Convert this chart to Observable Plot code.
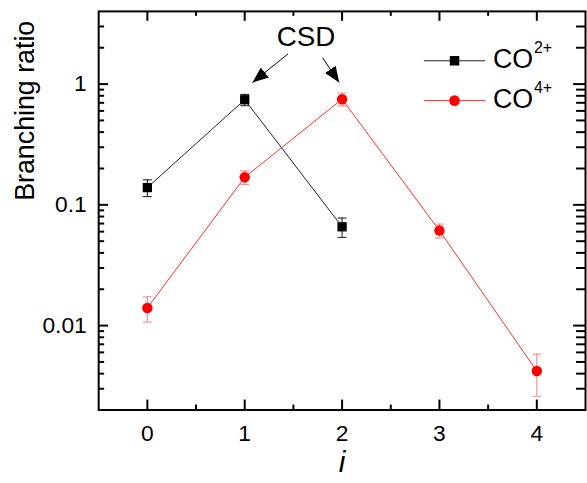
<!DOCTYPE html>
<html>
<head>
<meta charset="utf-8">
<script src="https://cdn.jsdelivr.net/npm/d3@7"></script>
<script src="https://cdn.jsdelivr.net/npm/@observablehq/plot@0.6"></script>
<style>
  html, body { margin: 0; padding: 0; background: #fff; overflow: hidden; width: 587px; height: 483px; }
</style>
</head>
<body>
<div id="chart"></div>
<script>
// CO2+ branching ratios by index i, with uncertainties
const co2Index = [0, 1, 2];
const co2Ratio = [0.139, 0.742, 0.0658];
const co2Error = [0.022, 0.08, 0.012];

// CO4+ branching ratios by index i, with uncertainties
const co4Index = [0, 1, 2, 3, 4];
const co4Ratio = [0.0140, 0.169, 0.750, 0.0612, 0.0042];
const co4Error = [0.0033, 0.022, 0.09, 0.008, 0.0016];

// Tick values
const xMajorTicks = [0, 1, 2, 3, 4];
const xMinorTicks = [0.5, 1.5, 2.5, 3.5];
const yMajorTicks = [0.01, 0.1, 1];
const yMinorTicks = [0.003, 0.004, 0.005, 0.006, 0.007, 0.008, 0.009,
                     0.02, 0.03, 0.04, 0.05, 0.06, 0.07, 0.08, 0.09,
                     0.2, 0.3, 0.4, 0.5, 0.6, 0.7, 0.8, 0.9, 2, 3];

// Series labels
const seriesNames = ["CO", "CO"];
const seriesCharges = ["2+", "4+"];
const seriesColors = ["#222222", "#ff2a2a"];
const barColors = ["#111111", "#ff7a7a"];

// Layout
const W = 592, H = 483, mL = 99, mR = 2, mT = 11, mB = 70;
const frameW = W - mL - mR, frameH = H - mT - mB;

const rows = (idx, val, err) => idx.map((i, k) => ({i, v: val[k], lo: val[k] - err[k], hi: val[k] + err[k]}));
const co2 = rows(co2Index, co2Ratio, co2Error);
const co4 = rows(co4Index, co4Ratio, co4Error);

// Horizontal error-bar cap
const cap = {draw(ctx) { ctx.moveTo(-4.5, 0); ctx.lineTo(4.5, 0); }};

// "CSD" callout, in data coordinates
const csdLabel = [{text: "CSD", x: 1.63, y: 2.07}];
const csdArrows = [
  {x1: 1.445, y1: 1.78, x2: 1.08, y2: 1.03},
  {x1: 1.80, y1: 1.65, x2: 1.97, y2: 1.03}
];

// Legend entries, in data coordinates
const legendRows = [
  {y: 1.56, name: seriesNames[0], sup: seriesCharges[0], color: seriesColors[0], symbol: "square", fill: "black", r: 5.4},
  {y: 0.73, name: seriesNames[1], sup: seriesCharges[1], color: seriesColors[1], symbol: "circle", fill: "red", r: 5.4}
].map(d => ({...d, xa: 2.84, xb: 3.47, xm: 3.155, xt: 3.55, xs: 3.97}));

const font = "Liberation Sans, Arial, Helvetica, sans-serif";

const chart = Plot.plot({
  width: W,
  height: H,
  marginLeft: mL,
  marginRight: mR,
  marginTop: mT,
  marginBottom: mB,
  style: {fontFamily: font, fontSize: "23px", color: "black", background: "white"},
  x: {domain: [-0.5, 4.5]},
  y: {type: "log", domain: [0.002, 4]},
  r: {type: "identity"},
  marks: [
    // inward ticks on all four sides
    Plot.ruleX(xMajorTicks, {x: d => d, insetTop: frameH - 10, stroke: "black", strokeWidth: 2}),
    Plot.ruleX(xMajorTicks, {x: d => d, insetBottom: frameH - 10, stroke: "black", strokeWidth: 2}),
    Plot.ruleX(xMinorTicks, {x: d => d, insetTop: frameH - 5, stroke: "black", strokeWidth: 2}),
    Plot.ruleX(xMinorTicks, {x: d => d, insetBottom: frameH - 5, stroke: "black", strokeWidth: 2}),
    Plot.ruleY(yMajorTicks, {y: d => d, insetRight: frameW - 10, stroke: "black", strokeWidth: 2}),
    Plot.ruleY(yMajorTicks, {y: d => d, insetLeft: frameW - 12, stroke: "black", strokeWidth: 2}),
    Plot.ruleY(yMinorTicks, {y: d => d, insetRight: frameW - 6, stroke: "black", strokeWidth: 2}),
    Plot.ruleY(yMinorTicks, {y: d => d, insetLeft: frameW - 9, stroke: "black", strokeWidth: 2}),
    Plot.frame({stroke: "black", strokeWidth: 2}),

    // tick labels
    Plot.axisX(xMajorTicks, {anchor: "bottom", tickSize: 0, tickPadding: 15, fontSize: 23, label: null}),
    Plot.axisY(yMajorTicks, {anchor: "left", tickSize: 0, tickPadding: 12, fontSize: 23, label: null, tickFormat: d => String(d)}),

    // axis titles
    Plot.text(["i"], {frameAnchor: "bottom", dy: 63, lineAnchor: "bottom", fontSize: 30, fontStyle: "italic"}),
    Plot.text(["Branching ratio"], {frameAnchor: "left", rotate: -90, dx: -65, dy: -10, lineAnchor: "bottom", fontSize: 27}),

    // CO2+
    Plot.line(co2, {x: "i", y: "v", stroke: seriesColors[0], strokeWidth: 1}),
    Plot.ruleX(co2, {x: "i", y1: "lo", y2: "hi", stroke: barColors[0], strokeWidth: 1}),
    Plot.dot(co2, {x: "i", y: "v", symbol: "square", r: 5.3, fill: "black", stroke: "none"}),
    Plot.dot(co2, {x: "i", y: "hi", symbol: cap, fill: "none", stroke: barColors[0], strokeWidth: 1}),
    Plot.dot(co2, {x: "i", y: "lo", symbol: cap, fill: "none", stroke: barColors[0], strokeWidth: 1}),

    // CO4+
    Plot.line(co4, {x: "i", y: "v", stroke: seriesColors[1], strokeWidth: 1}),
    Plot.ruleX(co4, {x: "i", y1: "lo", y2: "hi", stroke: barColors[1], strokeWidth: 1}),
    Plot.dot(co4, {x: "i", y: "v", symbol: "circle", r: 5.3, fill: "red", stroke: "none"}),
    Plot.dot(co4, {x: "i", y: "hi", symbol: cap, fill: "none", stroke: barColors[1], strokeWidth: 1}),
    Plot.dot(co4, {x: "i", y: "lo", symbol: cap, fill: "none", stroke: barColors[1], strokeWidth: 1}),

    // CSD callout
    Plot.link(csdArrows, {x1: "x1", y1: "y1", x2: "x2", y2: "y2", stroke: "black", strokeWidth: 1, markerEnd: "arrow"}),
    Plot.text(csdLabel, {x: "x", y: "y", text: "text", lineAnchor: "bottom", fontSize: 28}),

    // legend
    Plot.link(legendRows, {x1: "xa", x2: "xb", y1: "y", y2: "y", stroke: "color", strokeWidth: 1}),
    Plot.dot(legendRows, {x: "xm", y: "y", symbol: "symbol", r: "r", fill: "fill", stroke: "none"}),
    Plot.text(legendRows, {x: "xt", y: "y", text: "name", textAnchor: "start", fontSize: 27, dy: -1}),
    Plot.text(legendRows, {x: "xs", y: "y", text: "sup", textAnchor: "start", lineAnchor: "bottom", fontSize: 16, dy: -8})
  ]
});

document.getElementById("chart").appendChild(chart);

// Filled triangular arrowheads for the callout arrows
const svg = chart.tagName.toLowerCase() === "svg" ? chart : chart.querySelector("svg");
svg.querySelectorAll("marker").forEach(m => {
  m.setAttribute("viewBox", "-16 -6.5 16 13");
  m.setAttribute("markerWidth", 16);
  m.setAttribute("markerHeight", 13);
  m.setAttribute("fill", "black");
  m.setAttribute("stroke", "none");
  const p = m.querySelector("path");
  if (p) p.setAttribute("d", "M-16,-6.5L0,0L-16,6.5Z");
});
</script>
</body>
</html>
